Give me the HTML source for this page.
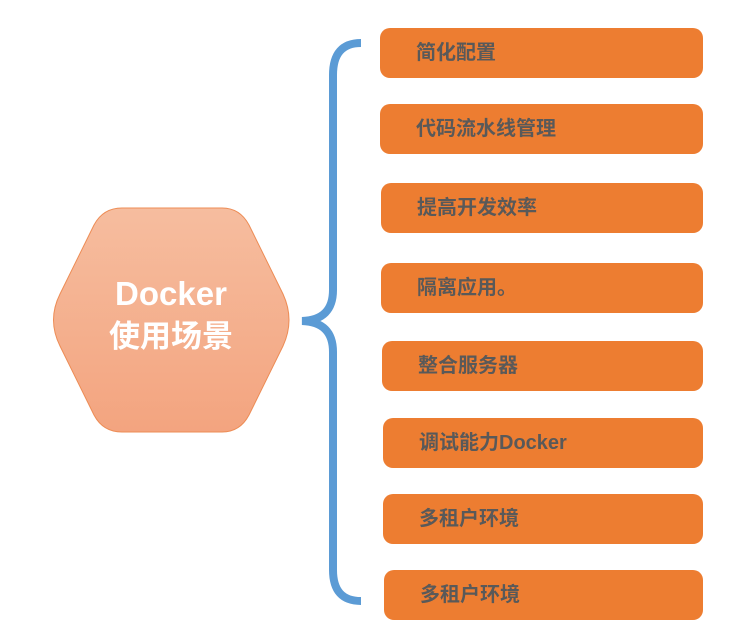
<!DOCTYPE html>
<html><head><meta charset="utf-8"><style>
html,body{margin:0;padding:0;background:#fff;}
.box{position:absolute;height:50px;right:26px;background:#ed7d31;border-radius:10px;color:#595959;font:bold 20px "Liberation Sans","Noto Sans CJK SC",sans-serif;line-height:50px;box-sizing:border-box;padding-left:36px;}
</style></head><body>
<div style="position:relative;width:729px;height:628px;overflow:hidden;">
<svg width="729" height="628" style="position:absolute;left:0;top:0">
<defs><linearGradient id="g" x1="0" y1="0" x2="0" y2="1"><stop offset="0" stop-color="#f6bd9f"/><stop offset="1" stop-color="#f3a47f"/></linearGradient></defs>
<path d="M60,294 L94,225 Q103,208 122,208 L222,208 Q240,208 249,225 L283,294 Q295,320 283,346 L249,415 Q240,432 222,432 L122,432 Q103,432 94,415 L60,346 Q47,320 60,294 Z" fill="url(#g)" stroke="#ed8c55" stroke-width="1"/>
<text x="171" y="305" fill="#fff" font-family="Liberation Sans, Noto Sans CJK SC, sans-serif" font-weight="bold" font-size="33" text-anchor="middle">Docker</text>
<text x="171" y="347" fill="#fff" font-family="Liberation Sans, Noto Sans CJK SC, sans-serif" font-weight="bold" font-size="31" text-anchor="middle">使用场景</text>
<path d="M361,43 Q333,43 333,75 L333,290 Q333,320 302,321 Q333,322 333,352 L333,570 Q333,601 361,601" fill="none" stroke="#5b9bd5" stroke-width="8"/>
</svg>
<div class="box" style="left:380px;top:28px">简化配置</div>
<div class="box" style="left:380px;top:104px">代码流水线管理</div>
<div class="box" style="left:381px;top:183px">提高开发效率</div>
<div class="box" style="left:381px;top:263px">隔离应用。</div>
<div class="box" style="left:382px;top:341px">整合服务器</div>
<div class="box" style="left:383px;top:418px">调试能力Docker</div>
<div class="box" style="left:383px;top:494px">多租户环境</div>
<div class="box" style="left:384px;top:570px">多租户环境</div>
</div>
</body></html>
